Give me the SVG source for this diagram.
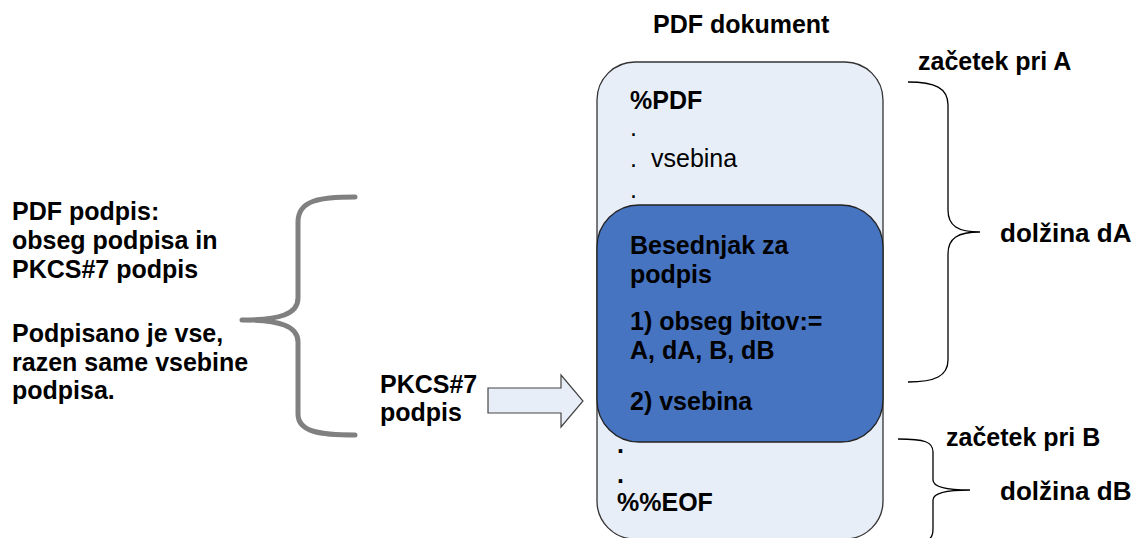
<svg xmlns="http://www.w3.org/2000/svg" width="1140" height="538" viewBox="0 0 1140 538">
<style>
text{font-family:"Liberation Sans",Arial,sans-serif;font-size:25px;fill:#000}
.b{font-weight:bold}
.len{font-size:26px}
.brace{fill:none;stroke:#000;stroke-width:1.3}
.gbrace{fill:none;stroke:#808080;stroke-width:5;stroke-linecap:round;stroke-linejoin:round}
</style>
<rect width="1140" height="538" fill="#fff"/>
<text class="b" x="653" y="33">PDF dokument</text>
<g id="doc">
<rect x="597" y="62" width="286" height="477" rx="38" fill="#e8eef8" stroke="#333" stroke-width="1.3"/>
<text class="b" x="630" y="109">%PDF</text>
<text x="630" y="136">.</text>
<text x="630" y="167">.</text>
<text x="651" y="167">vsebina</text>
<text x="630" y="198">.</text>
<text class="b" x="617" y="453">.</text>
<text class="b" x="617" y="483">.</text>
<text class="b" x="617" y="511">%%EOF</text>
</g>
<g id="dict">
<rect x="597" y="205" width="286" height="237" rx="42" fill="#4674c1" stroke="#222" stroke-width="1.3"/>
<text class="b" x="630" y="254">Besednjak za</text>
<text class="b" x="630" y="283">podpis</text>
<text class="b" x="630" y="330">1) obseg bitov:=</text>
<text class="b" x="630" y="359">A, dA, B, dB</text>
<text class="b" x="630" y="410">2) vsebina</text>
</g>
<g id="left-note">
<text class="b" x="12" y="220">PDF podpis:</text>
<text class="b" x="12" y="249">obseg podpisa in</text>
<text class="b" x="12" y="278">PKCS#7 podpis</text>
<text class="b" x="12" y="342">Podpisano je vse,</text>
<text class="b" x="12" y="371">razen same vsebine</text>
<text class="b" x="12" y="399">podpisa.</text>
</g>
<g id="pkcs">
<text class="b" x="380" y="393">PKCS#7</text>
<text class="b" x="380" y="421">podpis</text>
</g>
<g id="labels">
<text class="b" x="918" y="70">začetek pri A</text>
<text class="b len" x="1000" y="242">dolžina dA</text>
<text class="b" x="946" y="446">začetek pri B</text>
<text class="b len" x="1000" y="500">dolžina dB</text>
</g>
<g id="connectors">
<path class="gbrace" d="M355,197 C320,197 298,200 298,222 L298,298 C298,314 280,320 242,320 C280,320 298,326 298,342 L298,414 C298,432 320,435 355,435"/>
<path d="M488,388 L561,388 L561,375 L583,401 L561,427 L561,413 L488,413 Z" fill="#e8eef8" stroke="#444" stroke-width="1.2"/>
<path class="brace" d="M908,82 C935,82 948,88 948,105 L948,210 C948,226 958,232 980,232 C958,232 948,238 948,254 L948,360 C948,376 935,382 908,382"/>
<path class="brace" d="M898,439 C925,439 933,442 933,452 L933,480 C933,487 945,490 970,490 C945,490 933,493 933,500 L933,528 C933,535 932,537 930,538"/>
</g>
</svg>
